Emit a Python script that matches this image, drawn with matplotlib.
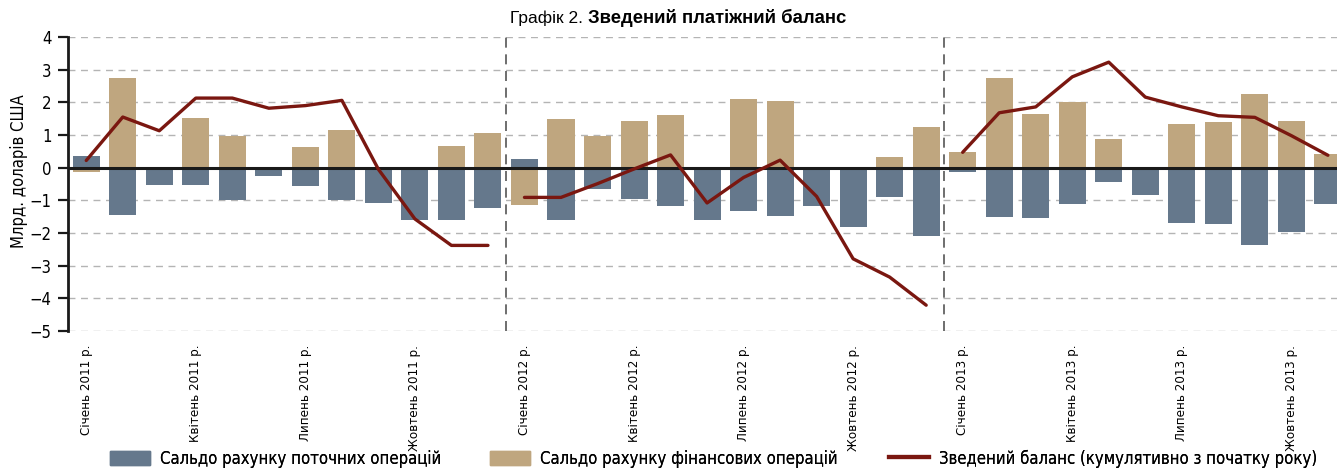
import matplotlib
matplotlib.use("Agg")
import matplotlib.pyplot as plt
import numpy as np
from matplotlib.patches import Patch
from matplotlib.lines import Line2D

plt.rcParams['font.family'] = ['DejaVu Sans']
plt.rcParams['font.stretch'] = 'condensed'

# monthly data, Jan 2011 .. Nov 2013 (bn USD)
current_2011 = [0.35, -1.46, -0.54, -0.54, -1.0, -0.27, -0.57, -1.0, -1.09, -1.61, -1.61, -1.22]
current_2012 = [0.25, -1.59, -0.64, -0.97, -1.18, -1.61, -1.34, -1.49, -1.18, -1.83, -0.91, -2.10]
current_2013 = [-0.14, -1.52, -1.55, -1.12, -0.45, -0.85, -1.68, -1.71, -2.38, -1.98, -1.12]

financial_2011 = [-0.14, 2.76, 0.0, 1.53, 0.98, 0.0, 0.64, 1.16, 0.0, 0.02, 0.67, 1.07]
financial_2012 = [-1.15, 1.50, 0.98, 1.44, 1.62, 0.03, 2.11, 2.05, 0.03, 0.0, 0.34, 1.23]
financial_2013 = [0.49, 2.76, 1.65, 2.02, 0.89, 0.0, 1.35, 1.41, 2.24, 1.44, 0.43]

cumulative_2011 = [0.22, 1.55, 1.13, 2.13, 2.13, 1.82, 1.90, 2.06, -0.05, -1.57, -2.38, -2.38]
cumulative_2012 = [-0.91, -0.91, -0.49, -0.04, 0.39, -1.08, -0.30, 0.23, -0.88, -2.79, -3.35, -4.21]
cumulative_2013 = [0.47, 1.68, 1.86, 2.78, 3.23, 2.16, 1.86, 1.59, 1.54, 0.98, 0.38]

tick_labels = ['Січень 2011 р.', 'Квітень 2011 р.', 'Липень 2011 р.', 'Жовтень 2011 р.',
               'Січень 2012 р.', 'Квітень 2012 р.', 'Липень 2012 р.', 'Жовтень 2012 р.',
               'Січень 2013 р.', 'Квітень 2013 р.', 'Липень 2013 р.', 'Жовтень 2013 р.']

legend_labels = ['Сальдо рахунку поточних операцій', 'Сальдо рахунку фінансових операцій',
                 'Зведений баланс (кумулятивно з початку року)']

BLUE = '#65788c'
TAN = '#bfa67f'
RED = '#7a1710'

current = current_2011 + current_2012 + current_2013
financial = financial_2011 + financial_2012 + financial_2013
x = np.arange(len(current))

fig = plt.figure(figsize=(13.37, 4.69), dpi=100)
ax = fig.add_axes([68 / 1337, 1 - 331 / 469, 1 - 68 / 1337, (331 - 37) / 469])

ax.set_ylim(-5, 4)
ax.set_xlim(-0.5, 34.25)
ax.set_yticks(range(-5, 5))
ax.yaxis.grid(True, color='#b4b4b4', linestyle=(0, (5, 4)), linewidth=1)
ax.set_axisbelow(True)

ax.bar(x, financial, width=0.74, color=TAN, zorder=2)
ax.bar(x, current, width=0.74, color=BLUE, zorder=2)
ax.axhline(0, color='#1a1a1a', linewidth=2.2, zorder=3)

# cumulative line, restarted each year
start = 0
for seg in (cumulative_2011, cumulative_2012, cumulative_2013):
    xs = np.arange(start, start + len(seg))
    ax.plot(xs, seg, color=RED, linewidth=2.4, zorder=4, solid_capstyle='round')
    start += 12

for xv in (11.5, 23.5):
    ax.axvline(xv, color='#555555', linestyle=(0, (6, 4)), linewidth=1.2, zorder=1)

for side in ('top', 'right', 'bottom'):
    ax.spines[side].set_visible(False)
ax.spines['left'].set_linewidth(2)
ax.spines['left'].set_color('#1a1a1a')

ax.set_xticks(np.arange(0, 36, 3))
ax.set_xticklabels(tick_labels, rotation=90, fontsize=9.5)
ax.tick_params(axis='x', length=0, pad=10)
ax.tick_params(axis='y', length=7.5, width=1.6, labelsize=12, pad=4.5, color='#1a1a1a')

fig.text(19 / 1337, 1 - 171 / 469, 'Млрд. доларів США', rotation=90, fontsize=12,
         ha='center', va='center')

title_font = ['Liberation Sans', 'DejaVu Sans']
fig.text(588 / 1337, 1 - 18 / 469, 'Графік 2. ', fontsize=12.5, ha='right', va='center',
         family=title_font, stretch='normal')
fig.text(588 / 1337, 1 - 18 / 469, 'Зведений платіжний баланс', fontsize=13.3,
         fontweight='bold', ha='left', va='center', family=title_font, stretch='normal')

handles = [Patch(color=BLUE), Patch(color=TAN), Line2D([0], [0], color=RED, linewidth=3)]
for h, lab, xpx in zip(handles, legend_labels, (95, 475, 874)):
    leg = fig.legend([h], [lab], loc='lower left', bbox_to_anchor=(xpx / 1337, -0.029),
                     frameon=False, fontsize=12, handlelength=2.4, handleheight=0.9,
                     handletextpad=0.6)
    fig.add_artist(leg)

fig.savefig('out.png', dpi=100)
